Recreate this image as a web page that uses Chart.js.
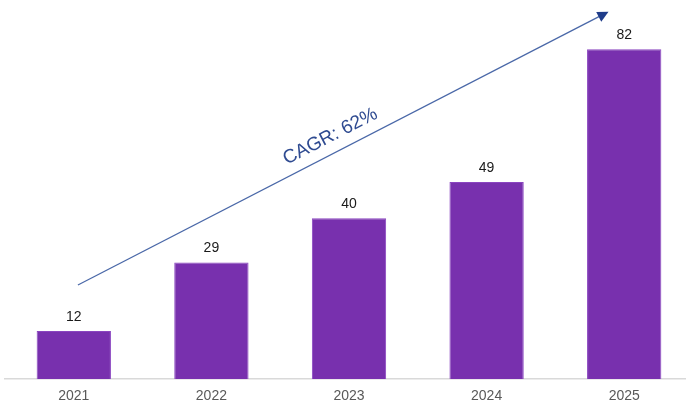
<!DOCTYPE html>
<html>
<head>
<meta charset="utf-8">
<script src="https://cdn.jsdelivr.net/npm/chart.js@4/dist/chart.umd.min.js"></script>
<style>
html,body{margin:0;padding:0;background:#fff;overflow:hidden;}
#wrap{width:693px;height:407px;}
</style>
</head>
<body>
<div id="wrap"><canvas id="c" width="693" height="407"></canvas></div>
<script>
const years = ['2021', '2022', '2023', '2024', '2025'];
const values = [12, 29, 40, 49, 82];
const cagrLabel = 'CAGR: 62%';
// arrow endpoints in data terms: [category index, value]
const arrowStart = [0.03, 23.4];
const arrowEnd = [3.886, 91.3];

const labelPlugin = {
  id: 'valueLabels',
  afterDatasetsDraw(chart) {
    const ctx = chart.ctx;
    const meta = chart.getDatasetMeta(0);
    ctx.save();
    ctx.font = '14px "Liberation Sans", Arial, sans-serif';
    ctx.fillStyle = '#1a1a1a';
    ctx.textAlign = 'center';
    ctx.textBaseline = 'bottom';
    meta.data.forEach((bar, i) => {
      ctx.fillText(String(values[i]), bar.x, bar.y - 7);
    });
    ctx.restore();
  }
};

const arrowPlugin = {
  id: 'cagrArrow',
  afterDraw(chart) {
    const ctx = chart.ctx;
    const xs = chart.scales.x, ys = chart.scales.y;
    const x0 = xs.getPixelForValue(arrowStart[0]);
    const y0 = ys.getPixelForValue(arrowStart[1]);
    const x1 = xs.getPixelForValue(arrowEnd[0]);
    const y1 = ys.getPixelForValue(arrowEnd[1]);
    const ang = Math.atan2(y1 - y0, x1 - x0);
    ctx.save();
    ctx.strokeStyle = '#4a68a8';
    ctx.lineWidth = 1.3;
    ctx.beginPath();
    ctx.moveTo(x0, y0);
    ctx.lineTo(x1 - 8 * Math.cos(ang), y1 - 8 * Math.sin(ang));
    ctx.stroke();
    // arrow head
    ctx.fillStyle = '#1f3c8a';
    ctx.translate(x1, y1);
    ctx.rotate(ang);
    ctx.beginPath();
    ctx.moveTo(0, 0);
    ctx.lineTo(-11, -5.5);
    ctx.lineTo(-11, 5.5);
    ctx.closePath();
    ctx.fill();
    ctx.restore();
    // label
    const t = 0.49;
    const mx = x0 + (x1 - x0) * t;
    const my = y0 + (y1 - y0) * t;
    ctx.save();
    ctx.translate(mx, my);
    ctx.rotate(ang);
    ctx.font = '19px "Liberation Sans", Arial, sans-serif';
    ctx.fillStyle = '#2f4b91';
    ctx.textAlign = 'center';
    ctx.textBaseline = 'bottom';
    ctx.fillText(cagrLabel, 0, -7);
    ctx.restore();
  }
};

new Chart(document.getElementById('c'), {
  type: 'bar',
  data: {
    labels: years,
    datasets: [{
      data: values,
      backgroundColor: '#7830ae',
      borderColor: '#8a45c0',
      borderWidth: 1,
      categoryPercentage: 1.0,
      barPercentage: 0.54
    }]
  },
  options: {
    responsive: false,
    animation: false,
    layout: { padding: { left: 5, right: 0, top: 17, bottom: -7 } },
    plugins: { legend: { display: false }, tooltip: { enabled: false } },
    scales: {
      x: {
        grid: { display: false, drawTicks: false },
        border: { display: true, color: '#d9d9d9', width: 1.5 },
        ticks: { color: '#595959', font: { size: 14, family: '"Liberation Sans", Arial, sans-serif' }, padding: 9 }
      },
      y: {
        display: false,
        min: 0,
        max: 90
      }
    }
  },
  plugins: [labelPlugin, arrowPlugin]
});
</script>
</body>
</html>
